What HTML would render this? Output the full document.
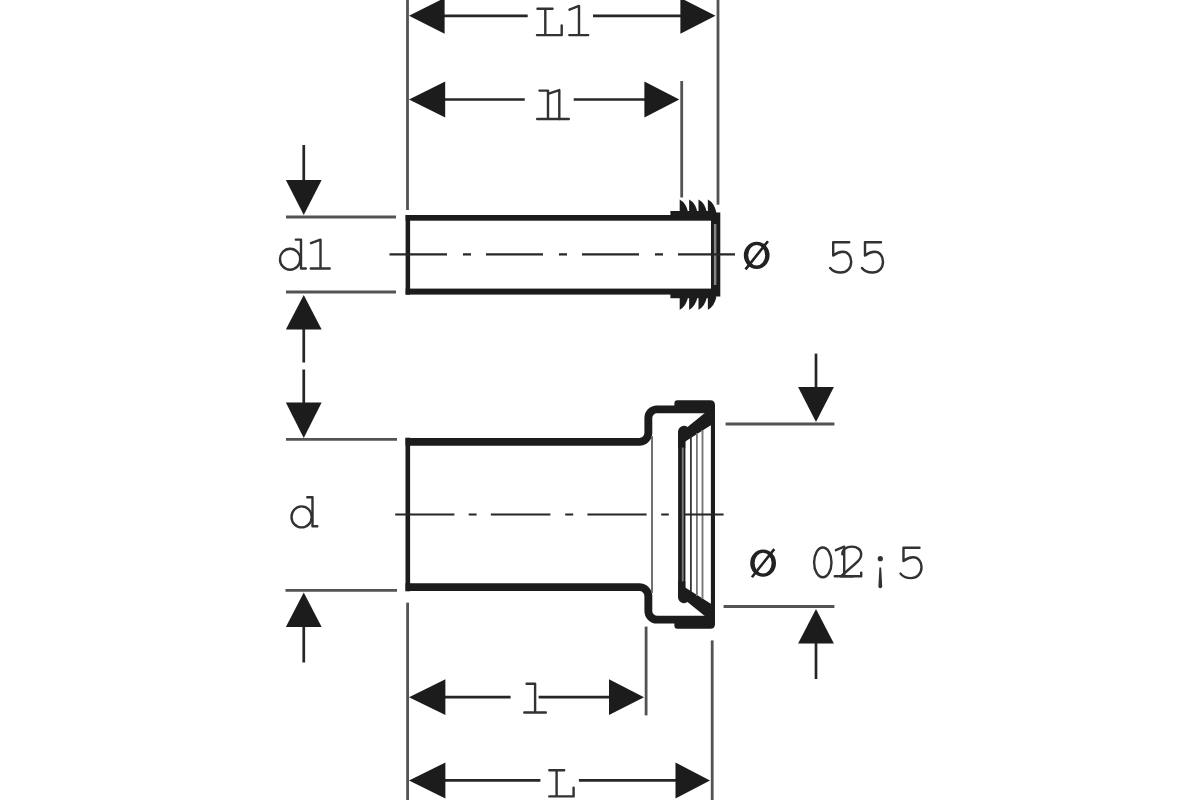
<!DOCTYPE html>
<html><head><meta charset="utf-8"><title>Dimension drawing</title>
<style>
html,body{margin:0;padding:0;background:#fff;}
body{width:1200px;height:800px;overflow:hidden;font-family:"Liberation Sans",sans-serif;}
svg{display:block;}
</style></head>
<body>
<svg width="1200" height="800" viewBox="0 0 1200 800">
<defs><filter id="soft" x="0" y="0" width="1200" height="800" filterUnits="userSpaceOnUse"><feGaussianBlur stdDeviation="0.45"/></filter></defs>
<rect width="1200" height="800" fill="#ffffff"/>
<g filter="url(#soft)">
<g stroke="#525252" stroke-width="2.8" fill="none">
<path d="M407.5 0V210"/>
<path d="M718 0V204.7"/>
<path d="M681.7 81V197.5"/>
<path d="M286 217H396"/>
<path d="M286 292H396"/>
<path d="M286 439.3H397"/>
<path d="M285.5 590.3H397"/>
<path d="M725.6 424H834.4"/>
<path d="M723.6 606.5H834.4"/>
<path d="M407.6 602.6V800"/>
<path d="M646.1 626.6V715.4"/>
<path d="M712.2 640.4V800"/>
</g>
<g stroke="#262626" stroke-width="2.7" fill="none">
<path d="M444 15.9H527.7M593 15.9H681"/>
<path d="M445 99.5H524.7M573.7 99.5H645"/>
<path d="M445 697.2H510.6M538.6 697.2H609"/>
<path d="M445 780.4H540.4M578.9 780.4H676"/>
<path d="M303.75 145V181"/>
<path d="M303.75 329V362.5M303.75 369.5V403"/>
<path d="M303.75 626V662.5"/>
<path d="M816 353.6V388"/>
<path d="M816 643V679"/>
</g>
<g fill="#1c1c1c">
<polygon points="409.0,15.8 444.6,-2.099999999999998 444.6,33.7"/>
<polygon points="715.5,15.8 680.4,-2.099999999999998 680.4,33.7"/>
<polygon points="409.0,99.5 445.2,81.6 445.2,117.4"/>
<polygon points="679.3,99.5 644.4,81.6 644.4,117.4"/>
<polygon points="409.0,697.2 445.4,679.3000000000001 445.4,715.1"/>
<polygon points="644,697.2 609,679.3000000000001 609,715.1"/>
<polygon points="409.0,780.5 445.4,762.6 445.4,798.4"/>
<polygon points="710,780.5 675.5,762.6 675.5,798.4"/>
<polygon points="303.75,215 285.85,180 321.65,180"/>
<polygon points="303.75,295 285.85,329.5 321.65,329.5"/>
<polygon points="303.75,438 285.85,402.5 321.65,402.5"/>
<polygon points="303.75,592.5 285.85,627 321.65,627"/>
<polygon points="816,422 798.1,387 833.9,387"/>
<polygon points="816,609 798.1,643.6 833.9,643.6"/>
</g>
<g fill="#1c1c1c" stroke="none">
<rect x="405.6" y="215" width="4.5" height="79.6"/>
<rect x="405.6" y="215" width="312" height="5.7"/>
<rect x="405.6" y="288.6" width="312" height="6"/>
<rect x="711" y="212.5" width="9.3" height="84"/>
<rect x="670.4" y="211" width="45" height="6"/>
<rect x="670.4" y="292" width="45" height="6.2"/>
<path d="M679.7 213V199.6Q686.2 203 688.3000000000001 213Z"/>
<path d="M679.7 296.5V309.7Q686.2 306.5 688.3000000000001 296.5Z"/>
<path d="M689.1 213V199.6Q695.6 203 697.7 213Z"/>
<path d="M689.1 296.5V309.7Q695.6 306.5 697.7 296.5Z"/>
<path d="M698.5 213V199.6Q705.0 203 707.1 213Z"/>
<path d="M698.5 296.5V309.7Q705.0 306.5 707.1 296.5Z"/>
<path d="M707.9 213V199.6Q714.4 203 716.5 213Z"/>
<path d="M707.9 296.5V309.7Q714.4 306.5 716.5 296.5Z"/>
</g>
<rect x="713.9" y="224" width="2.5" height="61" fill="#858585"/>
<g fill="#1c1c1c" stroke="none">
<rect x="405.5" y="437.7" width="4.6" height="153.6"/>
</g>
<g fill="none" stroke="#1c1c1c" stroke-width="8" stroke-linejoin="round">
<path d="M405.5 441.85H639.3A9 9 0 0 0 648.35 432.85V417.9A8.5 8.5 0 0 1 656.85 409.4H712" stroke-width="7.9"/>
<path d="M405.5 587.15H639.3A9 9 0 0 1 648.35 596.15V611.1A8.5 8.5 0 0 0 656.85 619.6H712" stroke-width="7.9"/>
</g>
<g fill="#1c1c1c" stroke="none">
<path d="M674.4 413V403.3Q674.4 400.3 677.4 400.3H710.4Q714.9 400.3 714.9 404.8V413Z"/>
<path d="M704.8 413H712V424.6L685.3 441.6V448H678.1V431.8A6 6 0 0 1 687.5 426.9Z"/>
<path d="M674.4 616.0V625.7Q674.4 628.7 677.4 628.7H710.4Q714.9 628.7 714.9 624.2V616.0Z"/>
<path d="M704.8 616.0H712V604.4L685.3 587.4V581.0H678.1V597.2A6 6 0 0 0 687.5 602.1Z"/>
<rect x="710.9" y="404" width="4.1" height="221.0"/>
<rect x="678.1" y="431" width="3.9" height="167.0"/>
<rect x="683.2" y="441" width="2.2" height="147.0"/>
<rect x="681.8" y="447.5" width="1.6" height="134.0" fill="#7a7a7a"/>
</g>
<path d="M652 436V593.0" stroke="#6a6a6a" stroke-width="1.9"/>
<path d="M690.9 437V592.0" stroke="#2a2a2a" stroke-width="1.7"/>
<path d="M696.9 433V596.0" stroke="#777" stroke-width="1.8"/>
<path d="M702.5 430V599.0" stroke="#777" stroke-width="1.9"/>
<g stroke="#262626" stroke-width="2.2" fill="none">
<path d="M389.5 254.3H447M463 254.3H471M486 254.3H543M559 254.3H567M582 254.3H639M655 254.3H663M678 254.3H735"/>
<path d="M395.2 514.5H454.4M468.7 514.5H476.6M490.8 514.5H550.4M565.2 514.5H573.2M587.4 514.5H646.6M661.2 514.5H668.8M684 514.5H723.6"/>
</g>
<g fill="none" stroke="#303030" stroke-width="2.4" stroke-linecap="round" stroke-linejoin="round">
<path d="M537.5 8.7H552.5M545.3 8.7V35.1M537 35.1H561.7V25.5"/>
<path d="M569.5 9.7L579 5.9V35.1M569.3 35.1H588.2"/>
<path d="M539.5 90.6H548V119M537.2 119H568.8"/>
<path d="M549.5 93.4L559.3 90.1V119"/>
<path d="M526.6 683.7H535.1V712.5M524.3 712.5H545.8"/>
<path d="M549.3 770.3H564.2M556.6 770.3V796.4M549.3 796.4H573.6V787.8"/>
<path d="M295.8 239.6H301V268.5H305.8"/>
<ellipse cx="290.1" cy="259.2" rx="10.1" ry="10.5"/>
<path d="M311 243.2L320.5 239.7V268.5M310.8 268.5H329.7"/>
<path d="M307.3 497.3H312.5V526.2H317.3"/>
<ellipse cx="301.6" cy="516.9" rx="10.1" ry="10.5"/>
<path d="M849.2 242.2H833.2V255.5C837.2 252.39999999999998 840.2 251.7 842.7 251.7C848.2 251.7 851.2 256.2 851.2 261.7C851.2 268.2 846.7 272.5 840.7 272.5C836.2 272.5 832.2 270.7 830.2 268.0"/>
<path d="M881 242.2H865V255.5C869 252.39999999999998 872 251.7 874.5 251.7C880 251.7 883 256.2 883 261.7C883 268.2 878.5 272.5 872.5 272.5C868 272.5 864 270.7 862 268.0"/>
<path d="M919.5 547.8H903.5V561.0999999999999C907.5 558.0 910.5 557.3 913.0 557.3C918.5 557.3 921.5 561.8 921.5 567.3C921.5 573.8 917.0 578.0999999999999 911.0 578.0999999999999C906.5 578.0999999999999 902.5 576.3 900.5 573.5999999999999"/>
<ellipse cx="822.8" cy="562.4" rx="8.7" ry="14.9"/>
<path d="M835.9 550.2L844.2 546.7V576.3M834.8 576.3H853"/>
<path d="M842.3 554.2C842.3 549.5 846.5 546.6 851.8 546.6C857.3 546.6 861.2 549.8 861.2 554.4C861.2 558 859 560.5 855.5 563.5L840.8 576.3H861.2V572.6"/>
</g>
<circle cx="880.3" cy="558.7" r="2.6" fill="#303030"/>
<path d="M879.4 567.4H881.2L882.2 586.3Q882.2 588.3 880.3 588.3Q878.4 588.3 878.4 586.3Z" fill="#303030"/>
<path d="M743.8000000000001 255.3A12.9 13.6 0 1 0 769.6 255.3A12.9 13.6 0 1 0 743.8000000000001 255.3ZM748.2 255.3A8.5 10.3 0 1 0 765.2 255.3A8.5 10.3 0 1 0 748.2 255.3Z" fill="#202020" fill-rule="evenodd"/>
<path d="M745.5 269.40000000000003L767.9000000000001 241.3" stroke="#202020" stroke-width="2.6" stroke-linecap="butt"/>
<path d="M750.2 563.1A12.9 13.6 0 1 0 776.0 563.1A12.9 13.6 0 1 0 750.2 563.1ZM754.6 563.1A8.5 10.3 0 1 0 771.6 563.1A8.5 10.3 0 1 0 754.6 563.1Z" fill="#202020" fill-rule="evenodd"/>
<path d="M751.9 577.2L774.3000000000001 549.1" stroke="#202020" stroke-width="2.6" stroke-linecap="butt"/>
</g>
</svg>
</body></html>
